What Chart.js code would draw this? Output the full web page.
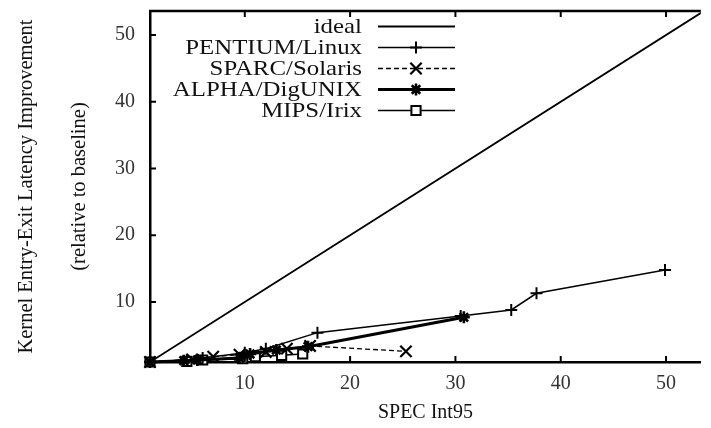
<!DOCTYPE html>
<html>
<head>
<meta charset="utf-8">
<script src="https://cdn.jsdelivr.net/npm/chart.js@4.4.1/dist/chart.umd.min.js"></script>
<style>
  html, body { margin: 0; padding: 0; background: #fff; }
  #wrap { width: 711px; height: 428px; }
</style>
</head>
<body>
<div id="wrap"><canvas id="c" width="711" height="428"></canvas></div>
<script>
// values (SPEC Int95 vs. improvement, both relative to baseline)
var idealX = [1, 60];
var idealY = [1, 60];

var pentiumX = [1, 4.5, 6, 10, 12, 16.9, 30.5, 35.3, 37.7, 49.9];
var pentiumY = [1, 1.3, 1.6, 2.4, 3.0, 5.4, 7.9, 8.8, 11.3, 14.8];

var sparcX = [1, 5, 7, 9.5, 12, 14, 16.2, 25.3];
var sparcY = [1, 1.4, 1.8, 2.1, 2.5, 3.0, 3.4, 2.6];

var alphaX = [1, 4.2, 5.5, 9.5, 10.5, 13, 16, 30.8];
var alphaY = [1, 1.2, 1.3, 1.6, 2.2, 2.8, 3.3, 7.7];

var mipsX = [1, 4.5, 6, 9.8, 11, 13.5, 15.5];
var mipsY = [1, 1.1, 1.3, 1.5, 1.8, 2.0, 2.2];

var xTicks = [10, 20, 30, 40, 50];
var yTicks = [10, 20, 30, 40, 50];

function pts(xs, ys) {
  return xs.map(function(x, i){ return {x: x, y: ys[i]}; });
}

var serif = "'Liberation Serif', 'DejaVu Serif', serif";

// gnuplot-like frame: top border and inward ticks
var framePlugin = {
  id: 'frame',
  afterDraw: function(chart) {
    var ctx = chart.ctx, a = chart.chartArea;
    var xs = chart.scales.x, ys = chart.scales.y;
    ctx.save();
    ctx.strokeStyle = '#000';
    ctx.lineWidth = 2.5;
    ctx.beginPath();
    ctx.moveTo(a.left - 1, a.top);
    ctx.lineTo(a.right, a.top);
    ctx.stroke();
    ctx.lineWidth = 2;
    ctx.beginPath();
    xTicks.forEach(function(v){
      var p = xs.getPixelForValue(v);
      ctx.moveTo(p, a.bottom); ctx.lineTo(p, a.bottom - 6);
      ctx.moveTo(p, a.top); ctx.lineTo(p, a.top + 6);
    });
    yTicks.forEach(function(v){
      var p = ys.getPixelForValue(v);
      ctx.moveTo(a.left, p); ctx.lineTo(a.left + 6, p);
    });
    ctx.stroke();
    ctx.restore();
  }
};

function marker(ctx, style, x, y, r) {
  ctx.beginPath();
  if (style === 'cross') {
    ctx.moveTo(x - r, y); ctx.lineTo(x + r, y);
    ctx.moveTo(x, y - r); ctx.lineTo(x, y + r);
  } else if (style === 'crossRot') {
    var d = r * Math.SQRT1_2;
    ctx.moveTo(x - d, y - d); ctx.lineTo(x + d, y + d);
    ctx.moveTo(x - d, y + d); ctx.lineTo(x + d, y - d);
  } else if (style === 'star') {
    var e = r * Math.SQRT1_2;
    ctx.moveTo(x - r, y); ctx.lineTo(x + r, y);
    ctx.moveTo(x, y - r); ctx.lineTo(x, y + r);
    ctx.moveTo(x - e, y - e); ctx.lineTo(x + e, y + e);
    ctx.moveTo(x - e, y + e); ctx.lineTo(x + e, y - e);
  } else if (style === 'rect') {
    var s = r * Math.SQRT1_2;
    ctx.fillStyle = '#fff';
    ctx.rect(x - s, y - s, 2 * s, 2 * s);
    ctx.fill();
  }
  ctx.stroke();
}

// legend drawn in the gnuplot layout: label right-aligned, then a line sample
var keyPlugin = {
  id: 'key',
  afterDraw: function(chart) {
    var ctx = chart.ctx;
    ctx.save();
    chart.data.datasets.forEach(function(ds, i){
      var y = 26.5 + i * 21;
      ctx.save();
      ctx.translate(362, y);
      ctx.scale(1.13, 1);
      ctx.fillStyle = '#111';
      ctx.font = '22px ' + serif;
      ctx.textAlign = 'right';
      ctx.textBaseline = 'middle';
      ctx.fillText(ds.label, 0, 1);
      ctx.restore();
      ctx.strokeStyle = '#000';
      ctx.lineWidth = ds.borderWidth;
      ctx.setLineDash(ds.borderDash || []);
      ctx.beginPath();
      ctx.moveTo(378, y); ctx.lineTo(455, y);
      ctx.stroke();
      ctx.setLineDash([]);
      if (ds.pointRadius > 0) {
        ctx.lineWidth = ds.pointBorderWidth;
        marker(ctx, ds.pointStyle, 416, y, ds.pointRadius);
      }
    });
    ctx.restore();
  }
};

function series(label, xs, ys, style, r, width, dash, pw) {
  return {
    label: label,
    data: pts(xs, ys),
    borderColor: '#000',
    backgroundColor: '#fff',
    borderWidth: width,
    borderDash: dash,
    pointStyle: style,
    pointRadius: r,
    pointBorderWidth: pw,
    pointBorderColor: '#000',
    pointBackgroundColor: '#fff',
    tension: 0,
    clip: 10
  };
}

new Chart(document.getElementById('c'), {
  type: 'line',
  data: {
    datasets: [
      {
        label: 'ideal',
        data: pts(idealX, idealY),
        borderColor: '#000',
        borderWidth: 1.8,
        pointRadius: 0,
        pointBorderWidth: 0,
        tension: 0
      },
      series('PENTIUM/Linux', pentiumX, pentiumY, 'cross', 6, 1.5, [], 2),
      series('SPARC/Solaris', sparcX, sparcY, 'crossRot', 8, 1.3, [5, 3], 2.2),
      series('ALPHA/DigUNIX', alphaX, alphaY, 'star', 6, 3, [], 2.6),
      series('MIPS/Irix', mipsX, mipsY, 'rect', 6.5, 1.5, [], 2)
    ]
  },
  options: {
    responsive: false,
    animation: false,
    layout: { padding: { top: 11, right: 0, left: 0, bottom: 0 } },
    plugins: {
      legend: { display: false },
      tooltip: { enabled: false }
    },
    scales: {
      x: {
        type: 'linear',
        min: 1,
        max: 53.3,
        afterFit: function(s){ s.height = 66; s.paddingLeft = 0; s.paddingRight = 0; },
        afterBuildTicks: function(s){ s.ticks = xTicks.map(function(v){ return {value: v}; }); },
        grid: { display: false, drawTicks: false },
        border: { display: true, color: '#000', width: 2.5 },
        ticks: { padding: 10, color: '#333', font: { family: serif, size: 20 } },
        title: {
          display: true,
          text: 'SPEC Int95',
          color: '#111',
          padding: { top: 0, bottom: 3 },
          font: { family: serif, size: 20 }
        }
      },
      y: {
        type: 'linear',
        min: 1,
        max: 53.6,
        afterFit: function(s){ s.width = 150; s.paddingTop = 0; s.paddingBottom = 0; },
        afterBuildTicks: function(s){ s.ticks = yTicks.map(function(v){ return {value: v}; }); },
        grid: { display: false, drawTicks: false },
        border: { display: true, color: '#000', width: 2.5 },
        ticks: { padding: 15, color: '#333', font: { family: serif, size: 20 } },
        title: {
          display: true,
          text: ['Kernel Entry-Exit Latency Improvement', '(relative to baseline)'],
          color: '#111',
          padding: { top: 0, bottom: 0 },
          font: { family: serif, size: 20.5, lineHeight: 2.6 }
        }
      }
    }
  },
  plugins: [framePlugin, keyPlugin]
});
</script>
</body>
</html>
